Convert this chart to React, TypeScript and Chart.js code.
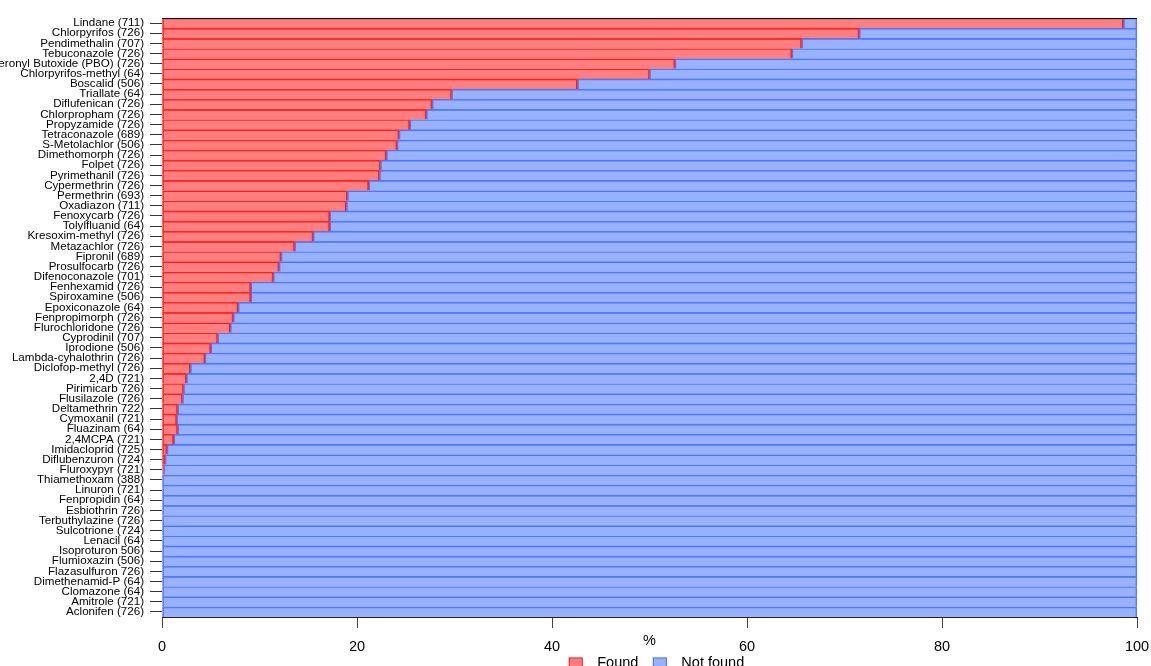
import React, { useEffect, useRef } from "react";
import { Chart, registerables } from "chart.js";

Chart.register(...registerables);

const categories: string[] = [
  "Lindane (711)", "Chlorpyrifos (726)", "Pendimethalin (707)", "Tebuconazole (726)",
  "Piperonyl Butoxide (PBO) (726)", "Chlorpyrifos-methyl (64)", "Boscalid (506)", "Triallate (64)",
  "Diflufenican (726)", "Chlorpropham (726)", "Propyzamide (726)", "Tetraconazole (689)",
  "S-Metolachlor (506)", "Dimethomorph (726)", "Folpet (726)", "Pyrimethanil (726)",
  "Cypermethrin (726)", "Permethrin (693)", "Oxadiazon (711)", "Fenoxycarb (726)",
  "Tolylfluanid (64)", "Kresoxim-methyl (726)", "Metazachlor (726)", "Fipronil (689)",
  "Prosulfocarb (726)", "Difenoconazole (701)", "Fenhexamid (726)", "Spiroxamine (506)",
  "Epoxiconazole (64)", "Fenpropimorph (726)", "Flurochloridone (726)", "Cyprodinil (707)",
  "Iprodione (506)", "Lambda-cyhalothrin (726)", "Diclofop-methyl (726)", "2,4D (721)",
  "Pirimicarb 726)", "Flusilazole (726)", "Deltamethrin 722)", "Cymoxanil (721)",
  "Fluazinam (64)", "2,4MCPA (721)", "Imidacloprid (725)", "Diflubenzuron (724)",
  "Fluroxypyr (721)", "Thiamethoxam (388)", "Linuron (721)", "Fenpropidin (64)",
  "Esbiothrin 726)", "Terbuthylazine (726)", "Sulcotrione (724)", "Lenacil (64)",
  "Isoproturon 506)", "Flumioxazin (506)", "Flazasulfuron 726)", "Dimethenamid-P (64)",
  "Clomazone (64)", "Amitrole (721)", "Aclonifen (726)",
];

const found: number[] = [
  98.6, 71.5, 65.6, 64.6, 52.6, 50.0, 42.6, 29.7, 27.7, 27.1, 25.4, 24.3, 24.1, 23.0, 22.4,
  22.3, 21.2, 19.0, 18.9, 17.2, 17.2, 15.5, 13.6, 12.2, 12.0, 11.4, 9.1, 9.1, 7.8, 7.3,
  7.0, 5.7, 5.0, 4.4, 2.9, 2.5, 2.2, 2.1, 1.6, 1.5, 1.6, 1.2, 0.5, 0.3, 0.15,
  0, 0, 0, 0, 0, 0, 0, 0, 0, 0, 0, 0, 0, 0,
];

const notFound: number[] = [
  1.4, 28.5, 34.4, 35.4, 47.4, 50.0, 57.4, 70.3, 72.3, 72.9, 74.6, 75.7, 75.9, 77.0, 77.6,
  77.7, 78.8, 81.0, 81.1, 82.8, 82.8, 84.5, 86.4, 87.8, 88.0, 88.6, 90.9, 90.9, 92.2, 92.7,
  93.0, 94.3, 95.0, 95.6, 97.1, 97.5, 97.8, 97.9, 98.4, 98.5, 98.4, 98.8, 99.5, 99.7, 99.85,
  100, 100, 100, 100, 100, 100, 100, 100, 100, 100, 100, 100, 100, 100,
];

const xTicks: number[] = [0, 20, 40, 60, 80, 100];
const seriesNames: string[] = ["Found", "Not found"];
const axisTitle = "%";

const RED_FILL = "rgba(255,0,0,0.5)";
const RED_LINE = "rgba(255,20,20,0.9)";
const BLUE_FILL = "rgba(51,102,255,0.5)";
const BLUE_LINE = "rgba(60,100,255,0.85)";
const FONT = "'Liberation Sans', Arial, sans-serif";

export default function App() {
  const ref = useRef<HTMLCanvasElement | null>(null);

  useEffect(() => {
    if (!ref.current) return;
    const extras = {
      id: "extras",
      afterDatasetsDraw(chart: any) {
        const { ctx, chartArea } = chart;
        ctx.save();
        ctx.strokeStyle = "#000";
        ctx.lineWidth = 1;
        ctx.beginPath();
        ctx.moveTo(chartArea.left, Math.round(chartArea.top) + 0.5);
        ctx.lineTo(chartArea.right, Math.round(chartArea.top) + 0.5);
        ctx.stroke();
        ctx.restore();
      },
      afterDraw(chart: any) {
        const { ctx, chartArea } = chart;
        ctx.save();
        ctx.font = `14.5px ${FONT}`;
        ctx.fillStyle = "#000";
        ctx.textAlign = "center";
        ctx.textBaseline = "middle";
        const cx = (chartArea.left + chartArea.right) / 2;
        ctx.fillText(axisTitle, cx, 641);
        // legend
        const box = 14;
        const gap = 14.5;
        const widths = seriesNames.map((s) => ctx.measureText(s).width);
        const total = widths.reduce((a, w) => a + box + gap + w, 0) + gap * (seriesNames.length - 1);
        let x = cx + 7 - total / 2;
        const fills = [RED_FILL, BLUE_FILL];
        const lines = [RED_LINE, BLUE_LINE];
        ctx.textAlign = "left";
        ctx.textBaseline = "alphabetic";
        seriesNames.forEach((s, i) => {
          ctx.fillStyle = fills[i];
          ctx.fillRect(x, 657.5, box, box);
          ctx.strokeStyle = lines[i];
          ctx.lineWidth = 1;
          ctx.strokeRect(x + 0.5, 658, box - 1, box);
          ctx.fillStyle = "#000";
          ctx.fillText(s, x + box + gap, 666.5);
          x += box + gap + widths[i] + gap;
        });
        ctx.restore();
      },
    };

    const chart = new Chart(ref.current, {
      type: "bar",
      data: {
        labels: categories,
        datasets: [
          {
            label: seriesNames[0],
            data: found,
            backgroundColor: RED_FILL,
            borderColor: RED_LINE,
            borderWidth: { top: 1, right: 1, bottom: 0, left: 1 },
            borderSkipped: false,
            categoryPercentage: 1,
            barPercentage: 1,
          },
          {
            label: seriesNames[1],
            data: notFound,
            backgroundColor: BLUE_FILL,
            borderColor: BLUE_LINE,
            borderWidth: { top: 1, right: 1, bottom: 0, left: 1 },
            borderSkipped: false,
            categoryPercentage: 1,
            barPercentage: 1,
          },
        ],
      },
      options: {
        indexAxis: "y",
        responsive: false,
        animation: false,
        layout: { padding: { top: 18, right: 14, bottom: 0, left: 0 } },
        plugins: {
          legend: { display: false },
          tooltip: { enabled: false },
          title: { display: false },
        },
        scales: {
          x: {
            stacked: true,
            min: 0,
            max: 100,
            afterBuildTicks: (scale: any) => {
              scale.ticks = xTicks.map((v) => ({ value: v }));
            },
            afterFit: (scale: any) => {
              scale.height = 49;
              scale.paddingLeft = 0;
              scale.paddingRight = 0;
            },
            ticks: {
              font: { family: FONT, size: 14.5 },
              color: "#000",
              padding: 10,
              maxRotation: 0,
            },
            grid: {
              drawOnChartArea: false,
              drawTicks: true,
              tickLength: 11,
              color: "#444",
            },
            border: { display: true, color: "#222", width: 1 },
          },
          y: {
            stacked: true,
            afterFit: (scale: any) => {
              scale.width = 162;
              scale.paddingTop = 0;
              scale.paddingBottom = 0;
            },
            ticks: {
              font: { family: FONT, size: 11.6 },
              color: "#000",
              padding: 6,
              autoSkip: false,
            },
            grid: {
              drawOnChartArea: false,
              drawTicks: true,
              tickLength: 12,
              offset: false,
              color: "#333",
            },
            border: { display: false },
          },
        },
      },
      plugins: [extras],
    } as any);
    return () => chart.destroy();
  }, []);

  return (
    <div style={{ position: "fixed", left: 0, top: 0, width: 1151, height: 666, background: "#fff" }}>
      <canvas ref={ref} width={1151} height={666} style={{ width: 1151, height: 666, display: "block" }} />
    </div>
  );
}
